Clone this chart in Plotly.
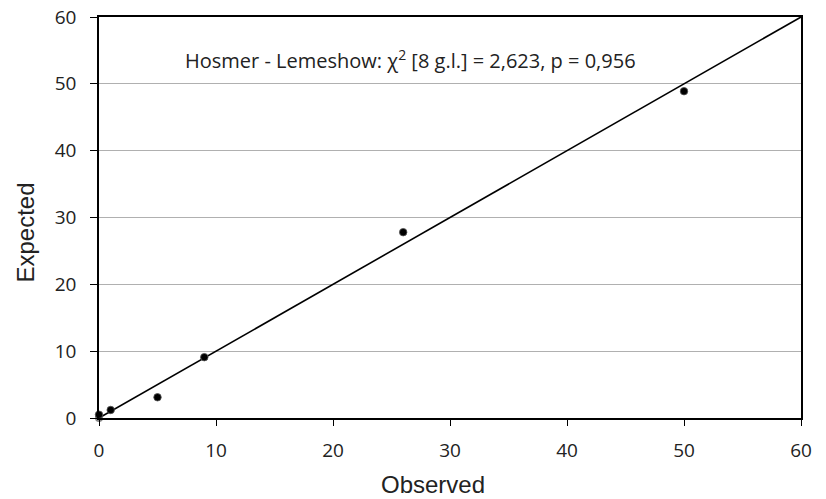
import plotly.graph_objects as go

observed = [0, 1, 5, 9, 26, 50]
expected = [0.5, 1.2, 3.1, 9.1, 27.8, 48.9]
zero_obs = [0]
zero_exp = [0]
ref_x = [0, 60]
ref_y = [0, 60]
ticks = [0, 10, 20, 30, 40, 50, 60]

fig = go.Figure()
fig.add_trace(go.Scatter(x=ref_x, y=ref_y, mode="lines",
                         line=dict(color="black", width=1.6), showlegend=False))
fig.add_trace(go.Scatter(x=zero_obs, y=zero_exp, mode="markers",
                         marker=dict(color="#888888", size=8), showlegend=False,
                         cliponaxis=False))
fig.add_trace(go.Scatter(x=observed, y=expected, mode="markers",
                         marker=dict(color="black", size=7.5, line=dict(color="#555", width=0.8)),
                         showlegend=False, cliponaxis=False))

fig.add_annotation(x=26.6, y=53.7, xref="x", yref="y",
                   text="Hosmer - Lemeshow: χ<sup>2</sup> [8 g.l.] = 2,623, p = 0,956",
                   showarrow=False, font=dict(family="Open Sans, sans-serif", size=20, color="#222"))

title_font = dict(size=24, family="Liberation Sans, Arial, sans-serif", color="#222")
fig.add_annotation(x=0.476, y=-0.165, xref="paper", yref="paper", text="Observed",
                   showarrow=False, xanchor="center", yanchor="middle", font=title_font)
fig.add_annotation(x=-0.1054, y=0.4626, xref="paper", yref="paper", text="Expected",
                   showarrow=False, xanchor="center", yanchor="middle", textangle=-90,
                   font=title_font)

tick_font = dict(size=19, family="Open Sans, sans-serif", color="#222")
fig.update_xaxes(range=[0, 60], tickvals=ticks, ticks="outside", ticklen=6, tickcolor="black",
                 showline=True, linecolor="black", linewidth=1.5, mirror=True,
                 showgrid=False, zeroline=False, tickfont=tick_font,
                 automargin=False, ticklabelstandoff=8)
fig.update_yaxes(range=[0, 60], tickvals=ticks, ticks="outside", ticklen=7, tickcolor="black",
                 showline=True, linecolor="black", linewidth=1.5, mirror=True,
                 showgrid=True, gridcolor="#b0b0b0", gridwidth=1, zeroline=False,
                 tickfont=tick_font, automargin=False, ticklabelstandoff=10)

fig.update_layout(width=826, height=499, margin=dict(l=99, r=25, t=17, b=81),
                  plot_bgcolor="white", paper_bgcolor="white")

fig.write_html("out.html", config={"displayModeBar": False},
               post_script="document.body.style.margin='0';")
